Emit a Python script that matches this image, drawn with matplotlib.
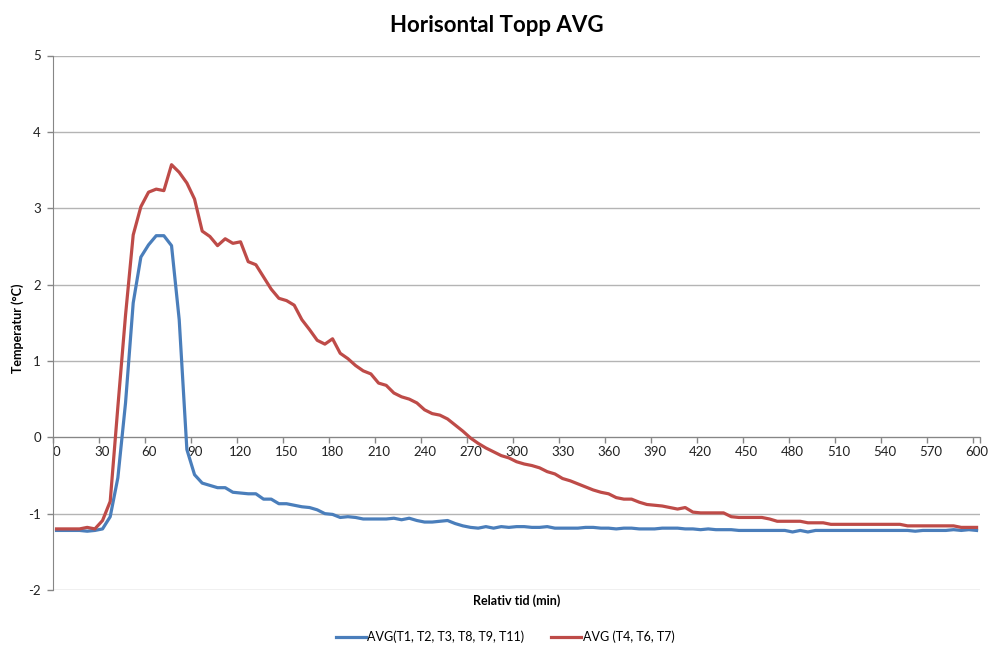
import matplotlib
matplotlib.use("Agg")
import matplotlib.pyplot as plt
import numpy as np

plt.rcParams['font.family'] = ['Lato', 'DejaVu Sans']

title = "Horisontal Topp AVG"
xlabel = "Relativ tid (min)"
ylabel = "Temperatur (°C)"
series_names = ["AVG(T1, T2, T3, T8, T9, T11)", "AVG (T4, T6, T7)"]

# time in minutes, one sample every 5 minutes (0..600)
time_min = list(range(0, 605, 5))

avg_blue = [
    -1.22, -1.22, -1.22, -1.22, -1.23, -1.22,
    -1.20, -1.04, -0.53, 0.45, 1.76, 2.36, 2.52, 2.64, 2.64, 2.51, 1.54, -0.16, -0.49, -0.60, -0.63,
    -0.66, -0.66, -0.72, -0.73, -0.74, -0.74, -0.81, -0.81, -0.87, -0.87, -0.89, -0.91, -0.92, -0.95,
    -1.00, -1.01, -1.05, -1.04, -1.05, -1.07, -1.07, -1.07, -1.07, -1.06, -1.08, -1.06, -1.09, -1.11,
    -1.11, -1.10, -1.09, -1.13, -1.16, -1.18, -1.19,
    -1.17, -1.19, -1.17, -1.18, -1.17, -1.17, -1.18, -1.18, -1.17, -1.19, -1.19, -1.19, -1.19, -1.18,
    -1.18, -1.19, -1.19, -1.20, -1.19, -1.19, -1.20, -1.20, -1.20,
    -1.19, -1.19, -1.19, -1.20, -1.20, -1.21, -1.20, -1.21, -1.21, -1.21, -1.22,
    -1.22, -1.22, -1.22, -1.22, -1.22, -1.22, -1.24, -1.22, -1.24, -1.22,
    -1.22, -1.22, -1.22, -1.22, -1.22, -1.22, -1.22, -1.22, -1.22, -1.22, -1.22, -1.22,
    -1.23, -1.22, -1.22, -1.22, -1.22, -1.21, -1.22, -1.21, -1.22,
]

avg_red = [
    -1.20, -1.20, -1.20, -1.20, -1.18, -1.20,
    -1.09, -0.84, 0.40, 1.60, 2.65, 3.02, 3.21, 3.25, 3.23, 3.57, 3.47, 3.33, 3.12, 2.70, 2.63,
    2.51, 2.60, 2.54, 2.56, 2.30, 2.26, 2.10, 1.94, 1.82, 1.79, 1.73, 1.54, 1.41, 1.27, 1.22, 1.29,
    1.10, 1.03, 0.94, 0.87, 0.83, 0.71, 0.68, 0.58, 0.53, 0.50,
    0.45, 0.36, 0.31, 0.29, 0.24, 0.16, 0.08, -0.01, -0.08, -0.14, -0.19, -0.24, -0.27, -0.32,
    -0.35, -0.37, -0.40, -0.45, -0.48, -0.54, -0.57, -0.61, -0.65, -0.69, -0.72, -0.74, -0.79,
    -0.81, -0.81, -0.85, -0.88, -0.89,
    -0.90, -0.92, -0.94, -0.92, -0.98, -0.99, -0.99, -0.99, -0.99, -1.04, -1.05, -1.05, -1.05,
    -1.05, -1.07, -1.10, -1.10, -1.10, -1.10, -1.12, -1.12, -1.12,
    -1.14, -1.14, -1.14, -1.14, -1.14, -1.14, -1.14, -1.14, -1.14, -1.14,
    -1.16, -1.16, -1.16, -1.16, -1.16, -1.16, -1.16,
    -1.18, -1.18, -1.18,
]

x_tick_labels = list(range(0, 601, 30))
y_ticks = list(range(-2, 6))

blue = '#4A7EBB'
red = '#BE4B48'
grid_c = '#B4B4B4'
axis_c = '#868686'

fig = plt.figure(figsize=(9.91, 6.47), dpi=100)
ax = fig.add_axes([52.7 / 991, 1 - 590 / 647, (980.4 - 52.7) / 991, (590 - 55.5) / 647])

ax.plot(time_min, avg_blue, color=blue, lw=2.3, solid_joinstyle='round', zorder=3)
ax.plot(time_min, avg_red, color=red, lw=2.3, solid_joinstyle='round', zorder=3)

ax.set_xlim(-2.5, 602.5)
ax.set_ylim(-2, 5)

for s in ['top', 'right']:
    ax.spines[s].set_visible(False)
ax.spines['bottom'].set_position(('data', 0))
ax.spines['bottom'].set_color(axis_c)
ax.spines['left'].set_color(axis_c)
ax.spines['bottom'].set_zorder(2)

ax.set_yticks(y_ticks)
ax.set_yticklabels([str(v) for v in y_ticks])
ax.yaxis.grid(True, color=grid_c, lw=1.0)
ax.set_axisbelow(True)

# category boundaries as tick marks, labels at category centers
bounds = [t - 2.5 for t in x_tick_labels] + [602.5]
ax.set_xticks(bounds)
ax.set_xticklabels([])
ax.set_xticks(x_tick_labels, minor=True)
ax.set_xticklabels([str(v) for v in x_tick_labels], minor=True)
ax.tick_params(axis='x', which='major', direction='out', length=4.5, color=axis_c, width=1)
ax.tick_params(axis='x', which='minor', length=0, pad=6.5, labelsize=9.5, labelcolor='#222222')
ax.tick_params(axis='y', direction='out', length=4.5, color=axis_c, width=1, pad=4,
               labelsize=9.5, labelcolor='#222222')

fig.text(497 / 991, 1 - 25 / 647, title, ha='center', va='center', fontsize=16, fontweight='bold')
fig.text(517 / 991, 1 - 601 / 647, xlabel, ha='center', va='center', fontsize=9, fontweight='bold')
fig.text(18 / 991, 1 - 328 / 647, ylabel, ha='center', va='center', rotation=90, fontsize=9, fontweight='bold')

from matplotlib.lines import Line2D
handles = [Line2D([], [], color=blue, lw=2.3), Line2D([], [], color=red, lw=2.3)]
fig.legend(handles, series_names, loc='center', bbox_to_anchor=(505 / 991, 1 - 637 / 647), ncol=2,
           frameon=False, fontsize=9, handlelength=2.4, handletextpad=0.1, columnspacing=2.2)

fig.savefig('out.png', dpi=100)
